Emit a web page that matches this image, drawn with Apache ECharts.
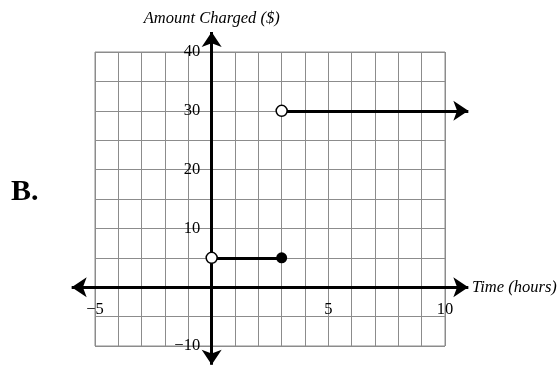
<!DOCTYPE html>
<html>
<head>
<meta charset="utf-8">
<script src="https://cdn.jsdelivr.net/npm/echarts@6/dist/echarts.min.js"></script>
<style>
  html, body { margin: 0; padding: 0; background: #fff; }
  #chart { width: 559px; height: 366px; }
</style>
</head>
<body>
<div id="chart"></div>
<script>
// Labelled tick values on each axis
const xTickLabels = [-5, 5, 10];
const yTickLabels = [-10, 10, 20, 30, 40];

// Axis extents, out to the arrow tips
const xAxisSpan = [-6.0, 11.0];
const yAxisSpan = [-13.2, 43.4];

// Piecewise charge function
const firstTier = [[0, 5], [3, 5]];
const secondTier = [[3, 30], [11.0, 30]];
const openPoints = [[0, 5], [3, 30]];
const closedPoints = [[3, 5]];

const SERIF = '"Liberation Serif", "DejaVu Serif", serif';
const minus = v => String(v).replace('-', '\u2212');
const labelText = { fontFamily: SERIF, fontSize: 16.5, color: '#000' };

const chart = echarts.init(document.getElementById('chart'));

// straight segments drawn on the cartesian grid, with optional arrowheads
const segments = {
  type: 'lines',
  coordinateSystem: 'cartesian2d',
  clip: false,
  silent: true,
  z: 5,
  symbolSize: 15,
  lineStyle: { color: '#000', width: 3, opacity: 1, curveness: 0 },
  data: [
    { coords: [[xAxisSpan[0], 0], [xAxisSpan[1], 0]], symbol: ['arrow', 'arrow'] },
    { coords: [[0, yAxisSpan[0]], [0, yAxisSpan[1]]], symbol: ['arrow', 'arrow'] },
    { coords: firstTier, symbol: ['none', 'none'] },
    { coords: secondTier, symbol: ['none', 'arrow'] }
  ]
};

chart.setOption({
  animation: false,
  title: {
    text: 'B.',
    left: 6,
    top: 172,
    textStyle: { fontFamily: SERIF, fontWeight: 'bold', fontSize: 30, color: '#000' }
  },
  grid: {
    left: 95, top: 52, width: 350, height: 294,
    outerBoundsMode: 'none',
    containLabel: false,
    show: true, borderColor: '#8c8c8c', borderWidth: 1
  },
  xAxis: {
    type: 'value', min: -5, max: 10, interval: 1,
    name: 'Time (hours)',
    nameLocation: 'end', nameGap: 27,
    nameTextStyle: { fontFamily: SERIF, fontStyle: 'italic', fontSize: 16.5, color: '#000' },
    axisLine: { show: false, onZero: true },
    axisTick: { show: false },
    axisLabel: { show: false },
    splitLine: { show: true, lineStyle: { color: '#8c8c8c', width: 1 } }
  },
  yAxis: {
    type: 'value', min: -10, max: 40, interval: 5,
    name: 'Amount Charged ($)',
    nameLocation: 'end', nameGap: 25,
    nameTextStyle: { fontFamily: SERIF, fontStyle: 'italic', fontSize: 16.5, color: '#000' },
    axisLine: { show: false, onZero: true },
    axisTick: { show: false },
    axisLabel: { show: false },
    splitLine: { show: true, lineStyle: { color: '#8c8c8c', width: 1 } }
  },
  series: [
    segments,
    {
      type: 'scatter', data: closedPoints, symbol: 'circle', symbolSize: 11,
      itemStyle: { color: '#000', opacity: 1 }, z: 8
    },
    {
      type: 'scatter', data: openPoints, symbol: 'circle', symbolSize: 11,
      itemStyle: { color: '#fff', borderColor: '#000', borderWidth: 1.5, opacity: 1 }, z: 8
    },
    // tick labels along the horizontal axis line
    {
      type: 'scatter', symbol: 'circle', symbolSize: 1, silent: true, clip: false, z: 9,
      itemStyle: { color: 'rgba(0,0,0,0)', opacity: 1 },
      data: xTickLabels.map(v => [v, 0]),
      label: {
        show: true, position: 'bottom', distance: 13, opacity: 1, ...labelText,
        formatter: p => minus(p.value[0])
      }
    },
    // tick labels along the vertical axis line
    {
      type: 'scatter', symbol: 'circle', symbolSize: 1, silent: true, clip: false, z: 9,
      itemStyle: { color: 'rgba(0,0,0,0)', opacity: 1 },
      data: yTickLabels.map(v => [0, v]),
      label: {
        show: true, position: 'left', distance: 11, opacity: 1, ...labelText,
        formatter: p => minus(p.value[1])
      }
    }
  ]
});
</script>
</body>
</html>
